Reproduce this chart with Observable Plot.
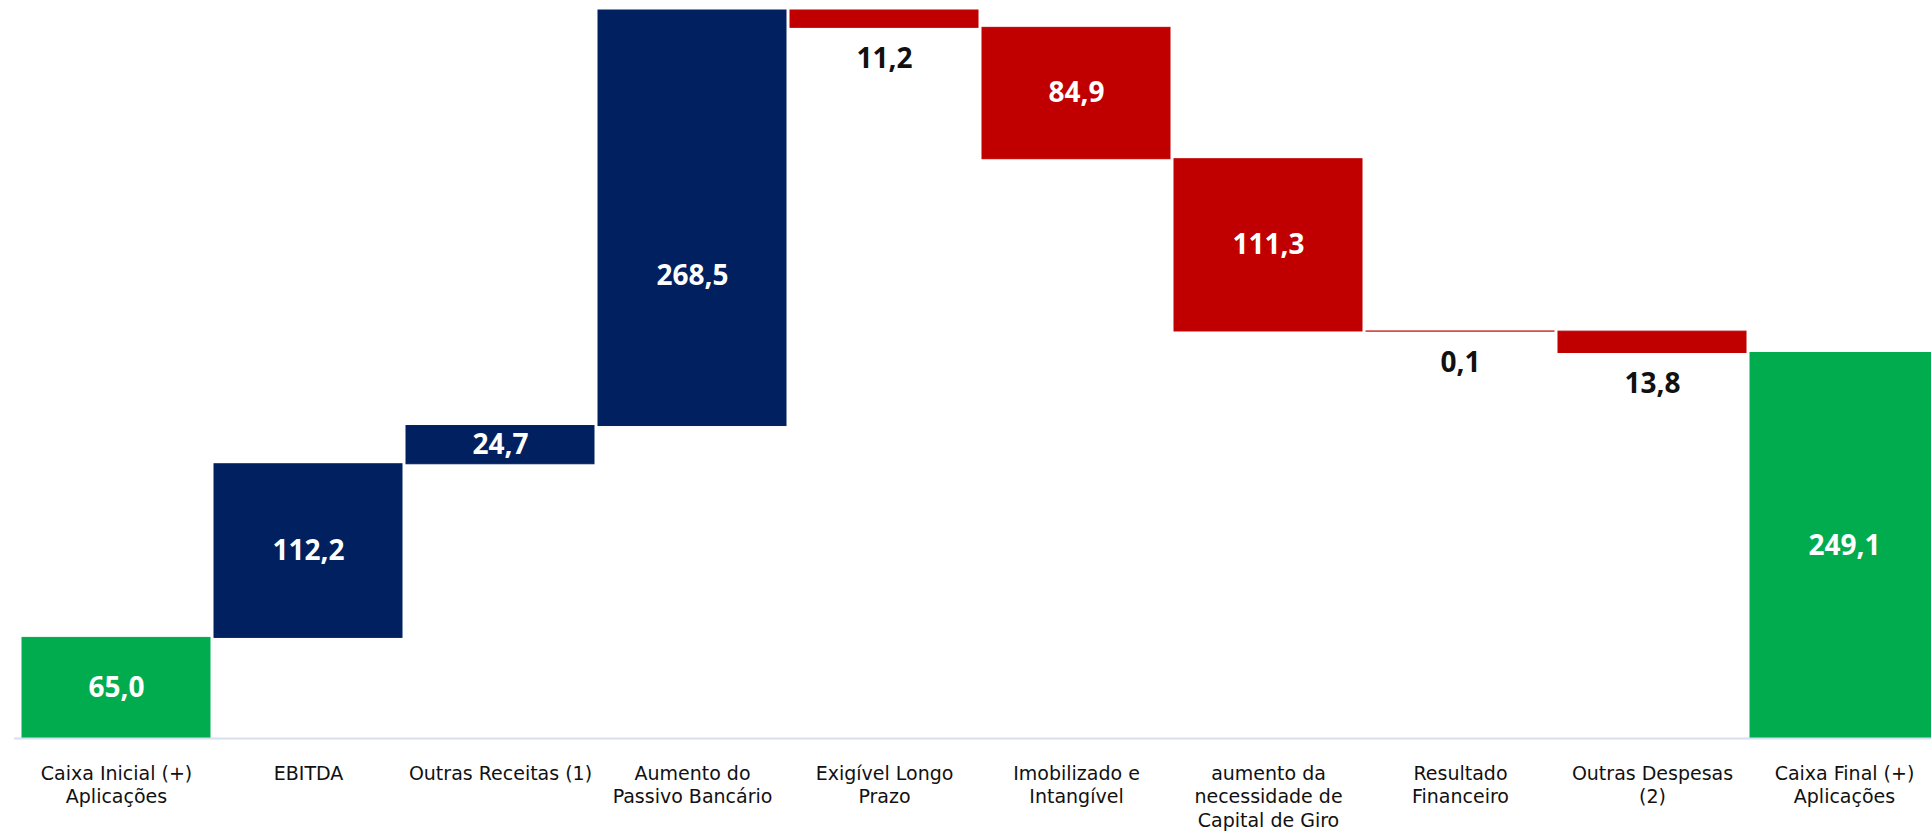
<!DOCTYPE html>
<html>
<head>
<meta charset="utf-8">
<script src="https://cdn.jsdelivr.net/npm/d3@7"></script>
<script src="https://cdn.jsdelivr.net/npm/@observablehq/plot@0.6"></script>
<style>
html, body { margin: 0; padding: 0; background: #fff; overflow: hidden; }
</style>
</head>
<body>
<div id="chart"></div>
<script>
// ---- data ----
const categories = [
  "Caixa Inicial (+) Aplicações",
  "EBITDA",
  "Outras Receitas (1)",
  "Aumento do Passivo Bancário",
  "Exigível Longo Prazo",
  "Imobilizado e Intangível",
  "aumento da necessidade de Capital de Giro",
  "Resultado Financeiro",
  "Outras Despesas (2)",
  "Caixa Final (+) Aplicações"
];
const tickLabels = [
  "Caixa Inicial (+)\nAplicações",
  "EBITDA",
  "Outras Receitas (1)",
  "Aumento do\nPassivo Bancário",
  "Exigível Longo\nPrazo",
  "Imobilizado e\nIntangível",
  "aumento da\nnecessidade de\nCapital de Giro",
  "Resultado\nFinanceiro",
  "Outras Despesas\n(2)",
  "Caixa Final (+)\nAplicações"
];
const values = [65.0, 112.2, 24.7, 268.5, -11.2, -84.9, -111.3, -0.1, -13.8, 249.1];
const kinds = ["total", "up", "up", "up", "down", "down", "down", "down", "down", "total"];
const labelPlacement = ["middle", "middle", "middle", "lower", "below", "middle", "middle", "below", "below", "middle"];

// ---- build waterfall rows ----
let running = 0;
const rows = categories.map((c, i) => {
  let a, b;
  if (kinds[i] === "total") { a = 0; b = values[i]; running = values[i]; }
  else { a = running; b = running + values[i]; running = b; }
  const lo = Math.min(a, b), hi = Math.max(a, b);
  let ly;
  if (labelPlacement[i] === "below") ly = lo;
  else if (labelPlacement[i] === "lower") ly = lo + (hi - lo) * 0.36;
  else ly = (lo + hi) / 2;
  return {
    category: c, kind: kinds[i], y1: lo, y2: hi, ly,
    placement: labelPlacement[i],
    label: d3.format(".1f")(Math.abs(values[i])).replace(".", ",")
  };
});
const yMax = d3.max(rows, d => d.y2);

const chart = Plot.plot({
  width: 1931,
  height: 831,
  marginTop: 10,
  marginBottom: 93,
  marginLeft: 14,
  marginRight: 0,
  style: { background: "#fff", fontFamily: "DejaVu Sans", overflow: "hidden" },
  x: { domain: categories, range: [14, 1947], padding: 0.02, label: null },
  y: { domain: [0, yMax], axis: null },
  color: { domain: ["total", "up", "down"], range: ["#00ac4e", "#002060", "#c00000"] },
  marks: [
    Plot.barY(rows, { x: "category", y1: "y1", y2: "y2", fill: "kind", stroke: "kind", strokeWidth: 1 }),
    Plot.ruleY([0], { stroke: "#d6e0ee", strokeWidth: 2 }),
    Plot.axisX({
      tickSize: 0, tickPadding: 24, fontSize: 19, lineHeight: 1.26, lineAnchor: "top",
      fill: "#111", label: null,
      tickFormat: d => tickLabels[categories.indexOf(d)]
    }),
    Plot.text(rows.filter(d => d.placement !== "below"), {
      x: "category", y: "ly", text: "label", fill: "white",
      fontSize: 28, fontWeight: "bold", fontFamily: "Open Sans", lineAnchor: "middle"
    }),
    Plot.text(rows.filter(d => d.placement === "below"), {
      x: "category", y: "ly", text: "label", fill: "#111",
      fontSize: 28, fontWeight: "bold", fontFamily: "Open Sans", lineAnchor: "middle", dy: 31
    })
  ]
});
document.getElementById("chart").appendChild(chart);
</script>
</body>
</html>
